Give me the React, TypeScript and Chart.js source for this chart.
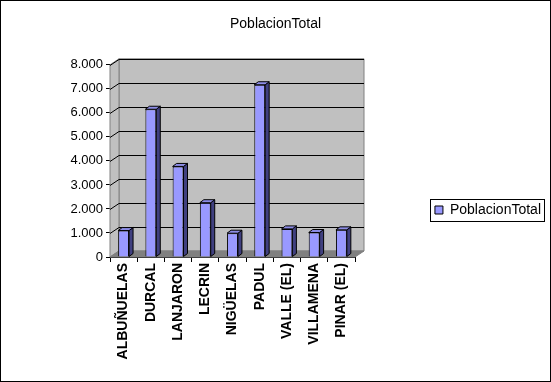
import React, { useEffect, useRef } from 'react';
import { Chart, registerables } from 'chart.js';
Chart.register(...registerables);

const chartTitle = 'PoblacionTotal';
const seriesName = 'PoblacionTotal';
const categories = ['ALBUÑUELAS', 'DURCAL', 'LANJARON', 'LECRIN', 'NIGÜELAS', 'PADUL', 'VALLE (EL)', 'VILLAMENA', 'PINAR (EL)'];
const poblacionTotal = [1100, 6150, 3770, 2260, 990, 7170, 1170, 1020, 1130];
const yMin = 0;
const yMax = 8000;
const yStep = 1000;

const fmt = (v: number) => String(v).replace(/\B(?=(\d{3})+(?!\d))/g, '.');

const DX = 9, DY = -6; // wall depth
const BDX = 4, BDY = -3; // bar depth
const PLOT_RIGHT_SPACE = 196; // space right of plot (gap + legend)

function poly(ctx: CanvasRenderingContext2D, pts: number[][], fill: string | null, stroke: string | null) {
  ctx.beginPath();
  ctx.moveTo(pts[0][0], pts[0][1]);
  for (let i = 1; i < pts.length; i++) ctx.lineTo(pts[i][0], pts[i][1]);
  ctx.closePath();
  if (fill) { ctx.fillStyle = fill; ctx.fill(); }
  if (stroke) { ctx.strokeStyle = stroke; ctx.lineWidth = 1; ctx.stroke(); }
}

const threeD = {
  id: 'threeD',
  beforeDraw(chart: any) {
    const { ctx, width, height } = chart;
    ctx.save();
    ctx.fillStyle = '#ffffff';
    ctx.fillRect(0, 0, width, height);
    ctx.strokeStyle = '#000';
    ctx.lineWidth = 1;
    ctx.strokeRect(0.5, 0.5, width - 1, height - 1);
    ctx.restore();
  },
  beforeDatasetsDraw(chart: any) {
    const { ctx, chartArea: a, scales } = chart;
    const y = scales.y;
    const l = a.left, r = a.right, t = a.top, b = a.bottom;
    ctx.save();
    poly(ctx, [[l + DX, t + DY], [r + DX, t + DY], [r + DX, b + DY], [l + DX, b + DY]], '#c0c0c0', '#808080');
    poly(ctx, [[l, t], [l + DX, t + DY], [l + DX, b + DY], [l, b]], '#c0c0c0', '#808080');
    poly(ctx, [[l, b], [r, b], [r + DX, b + DY], [l + DX, b + DY]], '#808080', '#808080');
    ctx.strokeStyle = '#000';
    ctx.lineWidth = 1;
    y.ticks.forEach((tk: any) => {
      if (tk.value <= yMin) return;
      const yy = Math.round(y.getPixelForValue(tk.value)) + 0.5;
      ctx.beginPath();
      ctx.moveTo(l, yy);
      ctx.lineTo(l + DX, yy + DY);
      ctx.lineTo(r + DX, yy + DY);
      ctx.stroke();
    });
    ctx.restore();
  },
  afterDatasetsDraw(chart: any) {
    const { ctx } = chart;
    const meta = chart.getDatasetMeta(0);
    ctx.save();
    meta.data.forEach((bar: any) => {
      const w = bar.width;
      const x0 = bar.x - w / 2, x1 = bar.x + w / 2;
      const top = bar.y, base = bar.base;
      poly(ctx, [[x1, top], [x1 + BDX, top + BDY], [x1 + BDX, base + BDY], [x1, base]], '#404080', '#000');
      poly(ctx, [[x0, top], [x0 + BDX, top + BDY], [x1 + BDX, top + BDY], [x1, top]], '#8c8ce6', '#000');
    });
    ctx.restore();
  },
  afterDraw(chart: any) {
    const lg = chart.legend;
    if (!lg || !lg.legendHitBoxes || !lg.legendHitBoxes.length) return;
    const hb = lg.legendHitBoxes[0];
    const { ctx } = chart;
    const cy = hb.top + hb.height / 2;
    ctx.save();
    ctx.strokeStyle = '#000';
    ctx.lineWidth = 1;
    ctx.strokeRect(Math.round(hb.left - 5) + 0.5, Math.round(cy - 11) + 0.5, Math.round(hb.width + 8), 22);
    ctx.restore();
  },
};

export default function App() {
  const ref = useRef<HTMLCanvasElement>(null);
  useEffect(() => {
    Chart.defaults.font.family = '"Liberation Sans", Arial, sans-serif';
    const chart = new Chart(ref.current!, {
      type: 'bar',
      data: {
        labels: categories,
        datasets: [{
          label: seriesName,
          data: poblacionTotal,
          backgroundColor: '#9999ff',
          borderColor: '#000000',
          borderWidth: 1,
          barPercentage: 0.8,
          categoryPercentage: 0.5,
        }],
      },
      options: {
        animation: false,
        responsive: false,
        devicePixelRatio: 1,
        layout: { padding: 0 },
        plugins: {
          title: {
            display: true, text: chartTitle, color: '#000',
            font: { size: 14, weight: 'normal' },
            padding: { top: 16, bottom: 32 },
          },
          legend: {
            position: 'right',
            title: { display: true, text: '', font: { size: 10 }, padding: { top: 13, bottom: 13 } },
            labels: { boxWidth: 8, boxHeight: 8, color: '#000', font: { size: 14 }, padding: 2 },
          },
          tooltip: { enabled: false },
        },
        scales: {
          x: {
            grid: { display: true, drawOnChartArea: false, drawTicks: true, tickLength: 5, color: '#000', offset: true },
            border: { display: true, color: '#000' },
            ticks: { minRotation: 90, maxRotation: 90, autoSkip: false, color: '#000', font: { size: 14, weight: 'bold' }, padding: 1 },
            afterFit: (s: any) => { s.height = 125; },
          },
          y: {
            min: yMin, max: yMax,
            ticks: { stepSize: yStep, color: '#000', font: { size: 13 }, padding: 3, callback: (v: any) => fmt(Number(v)) },
            grid: { drawOnChartArea: false, drawTicks: true, tickLength: 4, color: '#000' },
            border: { display: true, color: '#000' },
            afterFit: (s: any) => { s.width = 110; },
          },
          gap: {
            type: 'linear', position: 'right', display: false,
            afterFit: (s: any) => {
              const lw = s.chart.legend ? s.chart.legend.width : 0;
              s.width = Math.max(0, PLOT_RIGHT_SPACE - lw);
            },
          },
        },
      } as any,
      plugins: [threeD],
    });
    return () => chart.destroy();
  }, []);
  return (
    <div style={{ position: 'fixed', left: 0, top: 0, width: 551, height: 382 }}>
      <canvas ref={ref} width={551} height={382} style={{ display: 'block' }} />
    </div>
  );
}
